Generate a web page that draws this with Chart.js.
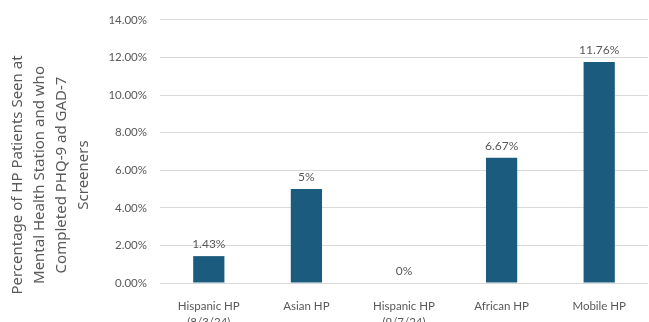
<!DOCTYPE html>
<html>
<head>
<meta charset="utf-8">
<script src="https://cdn.jsdelivr.net/npm/chart.js@4.4.1/dist/chart.umd.min.js"></script>
<style>
  html, body { margin: 0; padding: 0; background: #ffffff; }
  #wrap { width: 649px; height: 322px; }
</style>
</head>
<body>
<div id="wrap"><canvas id="screenChart" width="649" height="322"></canvas></div>
<script>
// Chart data
const sites = [['Hispanic HP', '(8/3/24)'], 'Asian HP', ['Hispanic HP', '(9/7/24)'], 'African HP', 'Mobile HP'];
const percentScreened = [1.43, 5, 0, 6.67, 11.76];
const valueLabels = ['1.43%', '5%', '0%', '6.67%', '11.76%'];
const yTicks = [0, 2, 4, 6, 8, 10, 12, 14];
const yTitle = ['Percentage of HP Patients Seen at', 'Mental Health Station and who', 'Completed PHQ-9 ad GAD-7', 'Screeners'];

const textGray = '#595959';

// Draws the value above each bar
const valueLabelPlugin = {
  id: 'valueLabels',
  afterDatasetsDraw(chart) {
    const ctx = chart.ctx;
    const meta = chart.getDatasetMeta(0);
    ctx.save();
    ctx.font = '12px Lato';
    ctx.fillStyle = textGray;
    ctx.textAlign = 'center';
    ctx.textBaseline = 'bottom';
    meta.data.forEach((bar, i) => {
      ctx.fillText(valueLabels[i], bar.x, bar.y - 6);
    });
    ctx.restore();
  }
};

// Rotated, multi-line y axis title
const yTitlePlugin = {
  id: 'yTitle',
  afterDraw(chart) {
    const ctx = chart.ctx;
    ctx.save();
    ctx.translate(18, 175);
    ctx.rotate(-Math.PI / 2);
    ctx.font = '15px "Noto Sans"';
    ctx.fillStyle = textGray;
    ctx.textAlign = 'center';
    ctx.textBaseline = 'middle';
    yTitle.forEach((line, i) => {
      ctx.fillText(line, 0, i * 22);
    });
    ctx.restore();
  }
};

const ctx = document.getElementById('screenChart').getContext('2d');
new Chart(ctx, {
  type: 'bar',
  data: {
    labels: sites,
    datasets: [{
      data: percentScreened,
      backgroundColor: '#1b5c7e',
      barPercentage: 0.32,
      categoryPercentage: 1
    }]
  },
  options: {
    responsive: false,
    animation: false,
    layout: { padding: { top: 17, right: 1, left: 0, bottom: 0 } },
    plugins: {
      legend: { display: false },
      tooltip: { enabled: false }
    },
    scales: {
      y: {
        min: 0,
        max: 14,
        afterFit: s => { s.width = 160; },
        afterBuildTicks: s => { s.ticks = yTicks.map(v => ({ value: v })); },
        border: { display: false },
        grid: { color: '#d9d9d9', drawTicks: false },
        ticks: {
          padding: 13,
          color: textGray,
          font: { family: 'Lato', size: 11.5 },
          callback: v => v.toFixed(2) + '%'
        }
      },
      x: {
        afterFit: s => { s.height = 39; },
        border: { display: false },
        grid: { display: false },
        ticks: {
          padding: 8,
          color: textGray,
          maxRotation: 0,
          font: { family: 'Lato', size: 11.5, lineHeight: 1.35 }
        }
      }
    }
  },
  plugins: [valueLabelPlugin, yTitlePlugin]
});
</script>
</body>
</html>
